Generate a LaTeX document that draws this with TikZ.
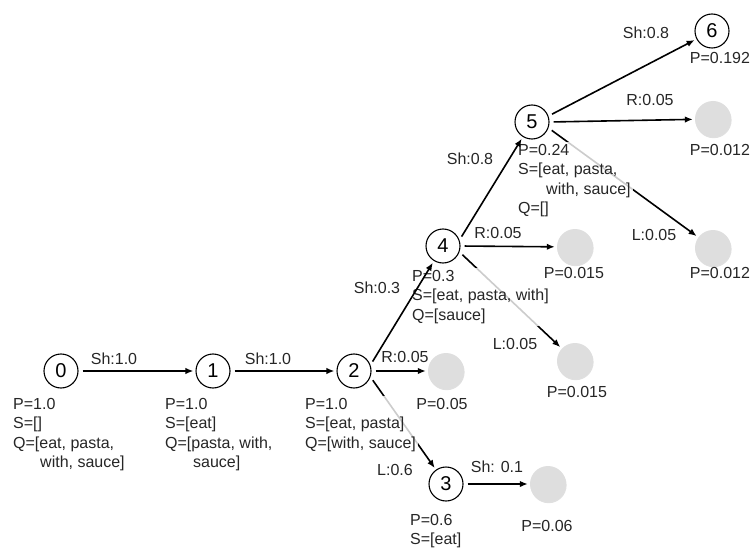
\documentclass[tikz,border=0pt]{standalone}
\usepackage{fontspec}
\setmainfont{Liberation Sans}
\usetikzlibrary{arrows.meta, shadows}

\begin{document}
\begin{tikzpicture}[
    x=1pt, y=-1pt,
    % Styles
    state/.style={circle, draw=black, line width=1.1pt, fill=white, minimum size=34pt, inner sep=0pt, font=\fontsize{20}{20}\selectfont},
    ghost/.style={circle, fill=black!13, minimum size=36pt, inner sep=0pt, drop shadow={shadow xshift=0.6pt, shadow yshift=-1.2pt, opacity=0.25}},
    info/.style={anchor=north west, align=left, inner sep=2pt, fill=white, fill opacity=0.8, text opacity=1, text=black!85, font=\fontsize{16}{19.5}\selectfont},
    txt/.style={inner sep=1pt, text=black!85, font=\fontsize{16}{19.5}\selectfont},
    arrow/.style={-{Latex[length=8pt, width=6.5pt]}, line width=1.6pt, shorten <=4pt, shorten >=2pt}
]
\useasboundingbox (0,0) rectangle (752,548);

% States
\node[state] (n0) at (61,371) {0};
\node[state] (n1) at (213,371) {1};
\node[state] (n2) at (354,371) {2};
\node[state] (n3) at (446,484) {3};
\node[state] (n4) at (443,246) {4};
\node[state] (n5) at (532,122) {5};
\node[state] (n6) at (712,31) {6};

% Dead ends
\node[ghost] (g2r) at (446,371) {};
\node[ghost] (g3) at (548,484) {};
\node[ghost] (g4r) at (575,247) {};
\node[ghost] (g4l) at (575,361) {};
\node[ghost] (g5r) at (713,119) {};
\node[ghost] (g5l) at (713,248) {};

% Left-arcs (run under the stack texts)
\draw[arrow] (n2.-20) -- (n3);
\draw[arrow] (n4.-20) -- (g4l);
\draw[arrow] (n5.-20) -- (g5l);

% Stack / queue texts
\node[info] (i0) at (11,396) {P=1.0\\S=[]\\Q=[eat, pasta,\\\hspace*{27pt}with, sauce]};
\node[info] (i1) at (163,396) {P=1.0\\S=[eat]\\Q=[pasta, with,\\\hspace*{28pt}sauce]};
\node[info] (i2) at (303,396) {P=1.0\\S=[eat, pasta]\\Q=[with, sauce]};
\node[info] (i3) at (408,512) {P=0.6\\S=[eat]};
\node[info] (i4) at (410,268) {P=0.3\\S=[eat, pasta, with]\\Q=[sauce]};
\node[info] (i5) at (516,142) {P=0.24\\S=[eat, pasta,\\\hspace*{28pt}with, sauce]\\Q=[]};

% Shift and right-arcs
\draw[arrow] (n0) -- (n1);
\draw[arrow] (n1) -- (n2);
\draw[arrow] (n2.20) -- (n4);
\draw[arrow] (n2.east) -- (g2r);
\draw[arrow] (n3) -- (g3);
\draw[arrow] (n4.20) -- (n5);
\draw[arrow] (n4.east) -- (g4r);
\draw[arrow] (n5.20) -- (n6);
\draw[arrow] (n5.east) -- (g5r);

% Transition labels
\node[txt] (l01) at (114,359) {Sh:1.0};
\node[txt] (l12) at (268,359) {Sh:1.0};
\node[txt] (l24) at (377,288) {Sh:0.3};
\node[txt] (l2r) at (405,357) {R:0.05};
\node[txt] (l23) at (395,470) {L:0.6};
\node[txt] (l3g) at (497,467) {Sh: 0.1};
\node[txt] (l45) at (470,159) {Sh:0.8};
\node[txt] (l4r) at (498,233) {R:0.05};
\node[txt] (l4l) at (515,344) {L:0.05};
\node[txt] (l56) at (646,33) {Sh:0.8};
\node[txt] (l5r) at (650,100) {R:0.05};
\node[txt] (l5l) at (654,235) {L:0.05};

% Probabilities of dead ends
\node[txt] (p2r) at (442,404) {P=0.05};
\node[txt] (p3g) at (547,526) {P=0.06};
\node[txt] (p4r) at (574,273) {P=0.015};
\node[txt] (p4l) at (577,392) {P=0.015};
\node[txt] (p6) at (720,58) {P=0.192};
\node[txt] (p5r) at (720,150) {P=0.012};
\node[txt] (p5l) at (720,273) {P=0.012};

\end{tikzpicture}
\end{document}
